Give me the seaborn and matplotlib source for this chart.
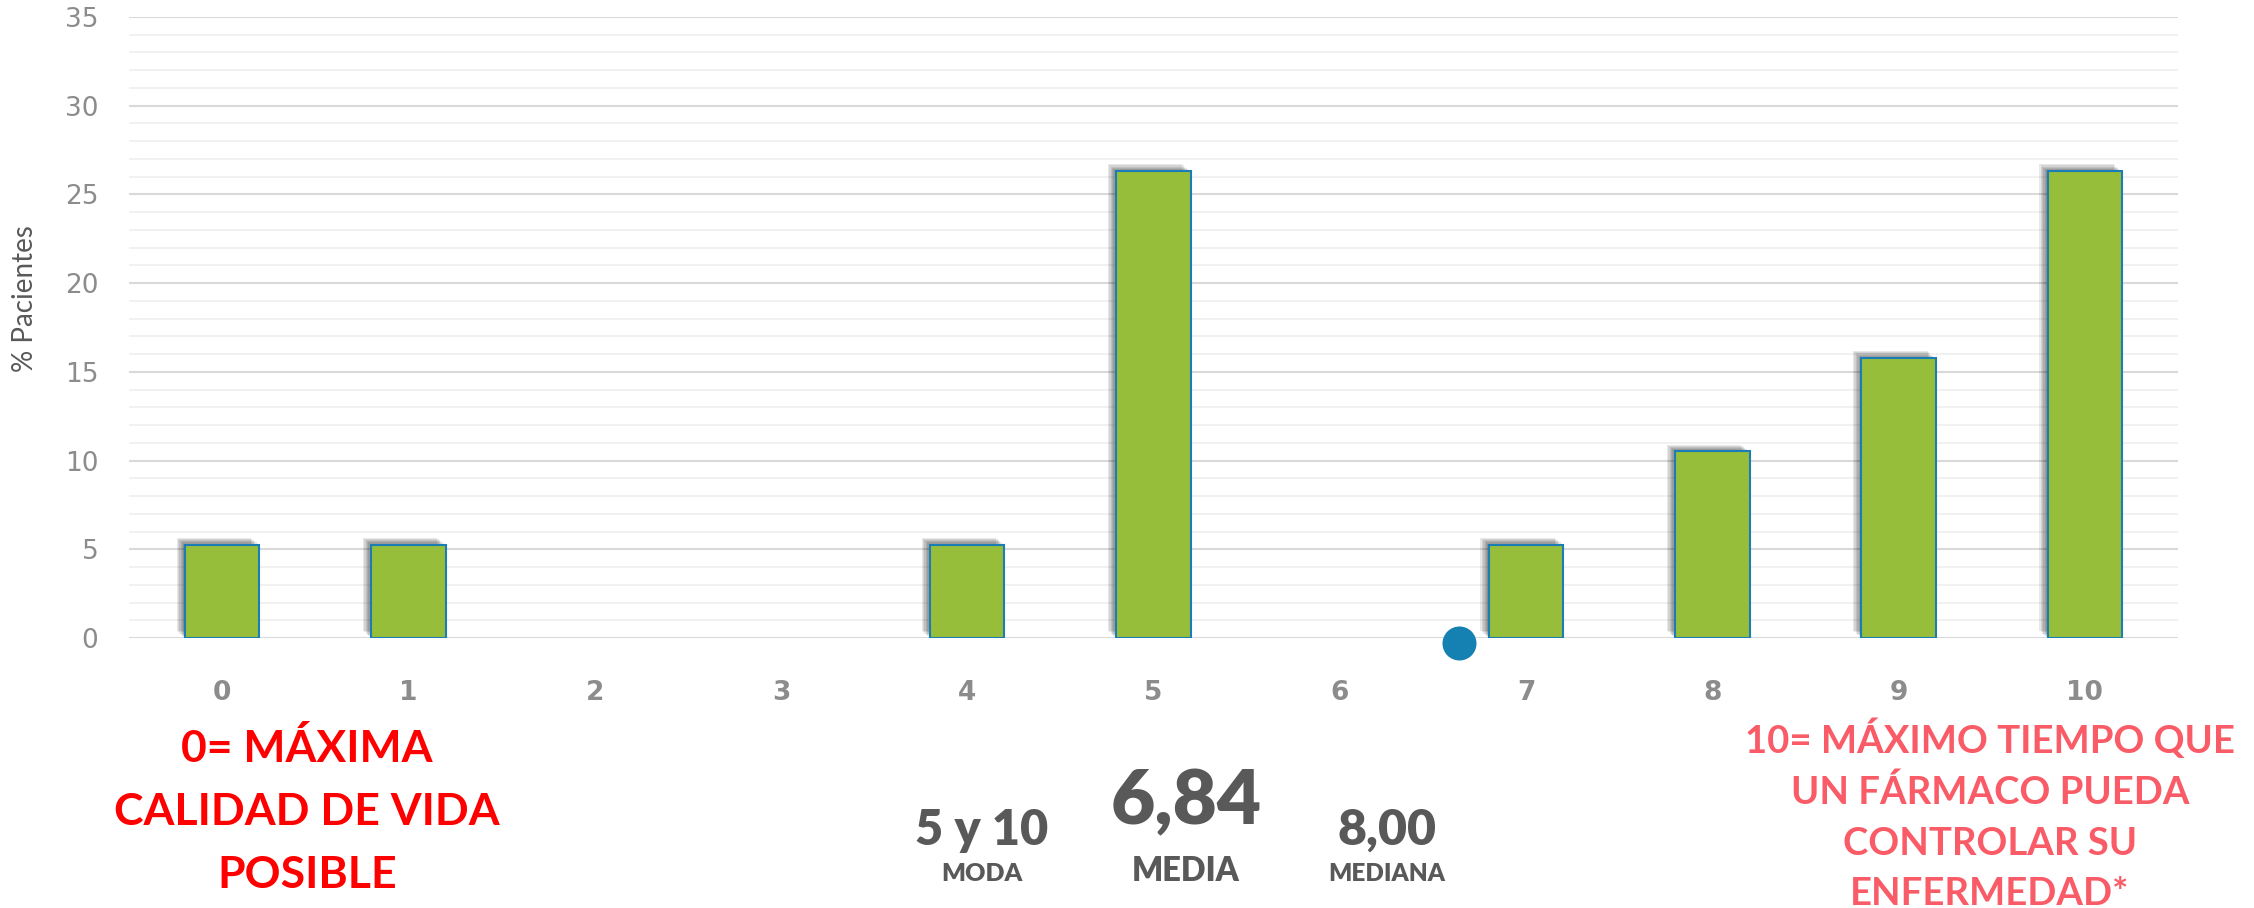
import matplotlib
matplotlib.use("Agg")
import matplotlib.pyplot as plt
import matplotlib.patheffects as pe
from matplotlib.ticker import MultipleLocator
import seaborn as sns

# --- Data ---
scores = ["0", "1", "2", "3", "4", "5", "6", "7", "8", "9", "10"]
pct_patients = [5.26, 5.26, 0, 0, 5.26, 26.32, 0, 5.26, 10.53, 15.79, 26.32]
dot_x = [6.64]
dot_y = [-0.28]

left_note = ["0= MÁXIMA", "CALIDAD DE VIDA", "POSIBLE"]
right_note = ["10= MÁXIMO TIEMPO QUE", "UN FÁRMACO PUEDA", "CONTROLAR SU", "ENFERMEDAD*"]
stat_values = ["5 y 10", "6,84", "8,00"]
stat_names = ["MODA", "MEDIA", "MEDIANA"]

# --- Style ---
sns.set_theme(style="white")
plt.rcParams["font.family"] = ["Lato", "DejaVu Sans"]

W, H = 2254, 908
AX_L, AX_R, AX_T, AX_B = 129, 2178, 17, 638
fig = plt.figure(figsize=(W / 100, H / 100), dpi=100)
ax = fig.add_axes([AX_L / W, 1 - AX_B / H, (AX_R - AX_L) / W, (AX_B - AX_T) / H])

sns.barplot(x=scores, y=pct_patients, order=scores, color="#97BE3A",
            edgecolor="#1B7DB5", linewidth=1.5, width=0.4, saturation=1,
            ax=ax)

# soft shadow up-left of each bar
shadow = [pe.SimplePatchShadow(offset=(-k, k * 0.8), shadow_rgbFace="black", alpha=0.09)
          for k in (1, 2, 3, 4, 5, 6)]
for p in ax.patches:
    if p.get_height() <= 0:
        p.set_visible(False)
    else:
        p.set_path_effects(shadow + [pe.Normal()])

ax.scatter(dot_x, dot_y, s=600, color="#1580B2", zorder=5, clip_on=False,
           linewidths=0)

ax.set_ylim(0, 35)
ax.set_xlim(-0.5, 10.5)
ax.yaxis.set_major_locator(MultipleLocator(5))
ax.yaxis.set_minor_locator(MultipleLocator(1))
ax.grid(axis="y", which="major", color="#D9D9D9", linewidth=1.5)
ax.grid(axis="y", which="minor", color="#EFEFEF", linewidth=1.2)
ax.set_axisbelow(True)
sns.despine(ax=ax, left=True, bottom=True)
ax.tick_params(axis="both", which="both", length=0)
ax.tick_params(axis="y", pad=22, labelsize=19, labelcolor="#8C8C8C")
ax.tick_params(axis="x", pad=30, labelsize=19, labelcolor="#8C8C8C")
for t in ax.get_yticklabels():
    t.set_fontfamily("DejaVu Sans")
for t in ax.get_xticklabels():
    t.set_fontfamily("DejaVu Sans")
    t.set_fontweight("bold")

ax.set_xlabel("")
ax.set_ylabel("% Pacientes", fontsize=20, color="#595959")
ax.yaxis.label.set_va("center")
ax.yaxis.set_label_coords((25 - AX_L) / (AX_R - AX_L), (AX_B - 299) / (AX_B - AX_T))

# --- Annotations ---
def fx(px):
    return px / W

def fy(py):
    return 1 - py / H

for line, base in zip(left_note, [762, 825, 888]):
    fig.text(fx(307), fy(base), line, ha="center", va="baseline",
             fontsize=32, fontweight="bold", color="#FF0000")

for line, base in zip(right_note, [753, 804, 855, 905]):
    fig.text(fx(1990), fy(base), line, ha="center", va="baseline",
             fontsize=27.5, fontweight="bold", color="#F95B67")

stat_x = [982, 1186, 1387]
stat_size = [35, 55, 36]
stat_base = [845, 824, 845]
name_size = [18, 23.5, 17.5]
for v, n, x, vs, vb, ns in zip(stat_values, stat_names, stat_x, stat_size, stat_base, name_size):
    fig.text(fx(x), fy(vb), v, ha="center", va="baseline", fontsize=vs,
             fontweight="heavy", color="#595959")
    fig.text(fx(x), fy(881), n, ha="center", va="baseline", fontsize=ns,
             fontweight="heavy", color="#595959")

fig.savefig("out.png", dpi=100)
